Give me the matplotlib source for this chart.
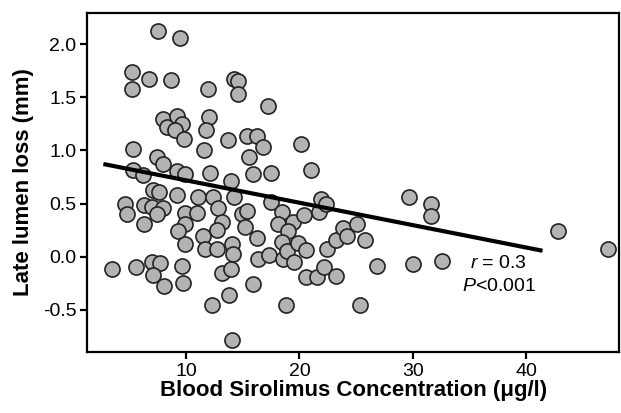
import matplotlib
matplotlib.use('Agg')
from matplotlib import pyplot as plt

plt.rcParams['font.family'] = ['Liberation Sans', 'DejaVu Sans']
plt.rcParams['mathtext.fontset'] = 'custom'
plt.rcParams['mathtext.rm'] = 'Liberation Sans'
plt.rcParams['mathtext.it'] = 'Liberation Sans:italic'

# blood sirolimus concentration (ug/l) vs late lumen loss (mm)
conc = [7.55, 9.47, 5.26, 5.21, 6.76, 8.65, 11.96, 14.23, 14.61, 14.56,
        7.99, 8.35, 9.18, 9.67, 9.03, 9.82, 12.05, 11.74, 13.68, 15.34,
        16.29, 16.77, 17.26, 20.14, 21.03, 17.47,
        11.59, 5.35, 7.44, 7.99, 15.56, 5.35, 6.20, 9.20, 9.91, 12.09,
        13.97, 15.91, 7.06, 7.57, 9.18, 11.01, 12.38, 14.19,
        4.61, 4.82, 6.26, 6.97, 7.99, 7.41, 6.31, 9.91, 10.92, 12.79,
        9.91, 9.25, 9.91, 13.17, 12.71, 11.45, 11.63, 12.71, 14.03, 14.10,
        14.89, 15.35, 15.16, 16.24, 16.31, 17.32,
        17.47, 18.44, 18.14, 19.41, 19.02, 18.44, 18.58, 18.88, 19.53, 19.91,
        20.59, 20.44, 21.76, 21.91, 22.35, 22.47, 23.23, 23.82, 24.18, 25.06,
        25.79, 20.56, 21.53, 22.20, 23.23, 26.82, 30.00, 18.79, 25.35, 29.70,
        3.49, 5.59, 6.95, 7.70, 7.04, 8.07, 9.62, 9.76, 13.15, 13.92,
        15.87, 13.79, 12.26, 14.03,
        31.62, 31.62, 42.80, 47.21, 32.61]
loss = [2.12, 2.06, 1.74, 1.58, 1.67, 1.66, 1.58, 1.67, 1.65, 1.53,
        1.30, 1.22, 1.32, 1.25, 1.19, 1.11, 1.31, 1.19, 1.10, 1.14,
        1.14, 1.03, 1.42, 1.06, 0.82, 0.79,
        1.00, 1.01, 0.94, 0.87, 0.94, 0.82, 0.77, 0.81, 0.78, 0.79,
        0.71, 0.78, 0.63, 0.61, 0.58, 0.56, 0.56, 0.56,
        0.50, 0.40, 0.49, 0.47, 0.46, 0.40, 0.31, 0.41, 0.41, 0.46,
        0.31, 0.24, 0.12, 0.33, 0.25, 0.19, 0.07, 0.07, 0.12, 0.03,
        0.40, 0.43, 0.28, 0.18, -0.02, 0.02,
        0.51, 0.42, 0.31, 0.33, 0.24, 0.14, -0.02, 0.05, -0.05, 0.13,
        0.06, 0.39, 0.42, 0.54, 0.50, 0.07, 0.16, 0.27, 0.19, 0.31,
        0.16, -0.19, -0.19, -0.10, -0.18, -0.09, -0.07, -0.45, -0.45, 0.56,
        -0.12, -0.10, -0.05, -0.06, -0.17, -0.28, -0.09, -0.25, -0.15, -0.12,
        -0.26, -0.36, -0.45, -0.78,
        0.50, 0.38, 0.24, 0.07, -0.04]

# regression line end points
fit_x = [2.7, 41.45]
fit_y = [0.872, 0.056]

x_ticks = [10, 20, 30, 40]
y_ticks = [-0.5, 0.0, 0.5, 1.0, 1.5, 2.0]

fig = plt.figure(figsize=(6.21, 4.13), dpi=100)
ax = fig.add_axes([0.1409, 0.1484, 0.8559, 0.8194])

ax.scatter(conc, loss, s=118, c='#b3b3b3', edgecolors='#222222', linewidths=1.2, zorder=2)
ax.plot(fit_x, fit_y, color='black', lw=3, solid_capstyle='butt', zorder=3)

ax.text(37.6, -0.062, r'$\it{r}$ = 0.3', ha='center', va='center', fontsize=14)
ax.text(37.6, -0.277, r'$\it{P}$<0.001', ha='center', va='center', fontsize=14)

ax.set_xlim(1.3, 48.2)
ax.set_ylim(-0.894, 2.29)
ax.set_xticks(x_ticks)
ax.set_xticklabels([str(t) for t in x_ticks])
ax.set_yticks(y_ticks)
ax.set_yticklabels(['%.1f' % t for t in y_ticks])

for sp in ax.spines.values():
    sp.set_linewidth(1.6)
ax.tick_params(direction='out', length=5, width=1.6, labelsize=14, pad=3)

ax.set_xlabel('Blood Sirolimus Concentration (μg/l)', fontsize=16, fontweight='bold', labelpad=0)
ax.set_ylabel('Late lumen loss (mm)', fontsize=16, fontweight='bold', labelpad=6)

fig.savefig('out.png', dpi=100)
